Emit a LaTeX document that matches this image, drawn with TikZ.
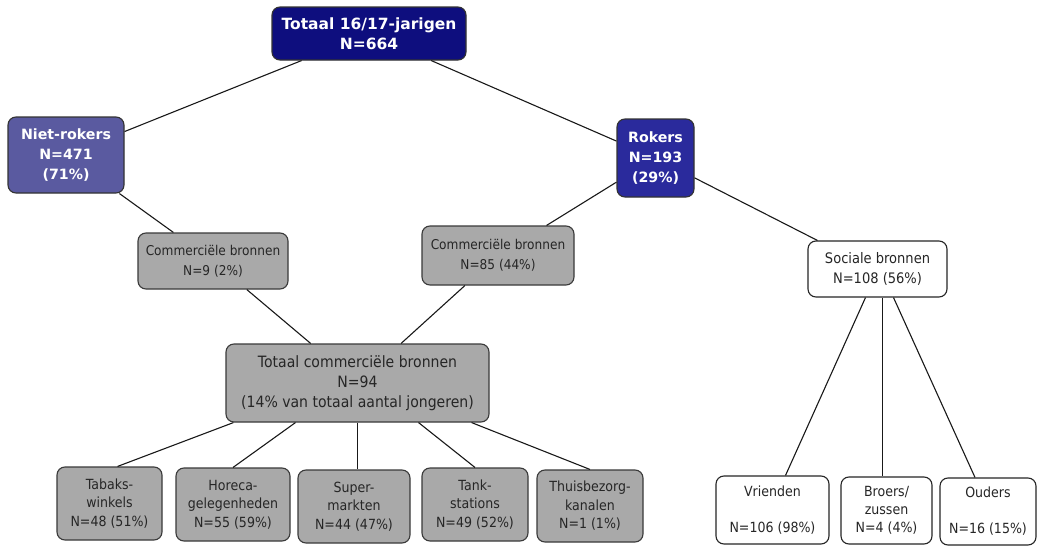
\documentclass[tikz,border=0pt]{standalone}
\usepackage{fontspec}
\setmainfont{DejaVu Sans}
\newfontfamily\regfont[FakeStretch=0.9]{DejaVu Sans}
\newfontfamily\boldfont{DejaVu Sans Bold}
\definecolor{navy}{HTML}{0E0E7E}
\definecolor{slateblue}{HTML}{5A5AA0}
\definecolor{royal}{HTML}{2A2A9C}
\definecolor{boxgray}{HTML}{A9A9A9}
\definecolor{edgegray}{HTML}{3A3A3A}
\tikzset{
  base/.style={rounded corners=8pt, align=center, inner sep=0pt, line width=1.1pt},
  topbox/.style={base, fill=navy, draw=black!80, text=white, font=\boldfont\fontsize{15.5}{20}\selectfont},
  nietbox/.style={base, fill=slateblue, draw=black!80, text=white, font=\boldfont\fontsize{14.2}{20}\selectfont},
  rokbox/.style={base, fill=royal, draw=black!80, text=white, font=\boldfont\fontsize{14.2}{20}\selectfont},
  graybox/.style={base, fill=boxgray, draw=edgegray, text=black!85, font=\regfont\fontsize{13.5}{20}\selectfont},
  smallgray/.style={base, fill=boxgray, draw=edgegray, text=black!85, font=\regfont\fontsize{14}{18.5}\selectfont},
  whitebox/.style={base, fill=white, draw=black!85, text=black!85, font=\regfont\fontsize{14.5}{20}\selectfont},
  smallwhite/.style={base, fill=white, draw=black!85, text=black!85, font=\regfont\fontsize{14}{18}\selectfont},
  conn/.style={line width=1.1pt, draw=black!90},
}
\begin{document}
\begin{tikzpicture}[x=1pt,y=-1pt]
\useasboundingbox (0,0) rectangle (1037,546);
\fill[white] (0,0) rectangle (1037,546);
% level 0
\node[topbox, minimum width=194pt, minimum height=53pt] (top) at (369,33.5) {Totaal 16/17-jarigen\\N=664};
% level 1
\node[nietbox, minimum width=116pt, minimum height=76pt] (niet) at (66,155) {Niet-rokers\\N=471\\(71\%)};
\node[rokbox, minimum width=77pt, minimum height=78pt] (rok) at (655.5,158) {Rokers\\N=193\\(29\%)};
% level 2
\node[graybox, minimum width=150pt, minimum height=56pt] (c9) at (213,261) {Commerciële bronnen\\N=9 (2\%)};
\node[graybox, minimum width=152pt, minimum height=59pt] (c85) at (498,255.5) {Commerciële bronnen\\N=85 (44\%)};
\node[whitebox, minimum width=139pt, minimum height=56pt] (soc) at (877.5,269) {Sociale bronnen\\N=108 (56\%)};
% level 3
\node[graybox, minimum width=263pt, minimum height=78pt, font=\regfont\fontsize{15.6}{20}\selectfont] (tot) at (357.5,383) {Totaal commerciële bronnen\\N=94\\(14\% van totaal aantal jongeren)};
% level 4
\node[smallgray, minimum width=105pt, minimum height=73pt] (tab) at (109.5,503.5) {Tabaks-\\winkels\\N=48 (51\%)};
\node[smallgray, minimum width=114pt, minimum height=73pt] (hor) at (233,504.5) {Horeca-\\gelegenheden\\N=55 (59\%)};
\node[smallgray, minimum width=112pt, minimum height=73pt] (sup) at (354,506.5) {Super-\\markten\\N=44 (47\%)};
\node[smallgray, minimum width=106pt, minimum height=73pt] (tank) at (475,504.5) {Tank-\\stations\\N=49 (52\%)};
\node[smallgray, minimum width=106pt, minimum height=72pt] (thuis) at (590,506) {Thuisbezorg-\\kanalen\\N=1 (1\%)};
\node[smallwhite, minimum width=113pt, minimum height=68pt] (vri) at (772.5,510) {Vrienden\\[18pt]N=106 (98\%)};
\node[smallwhite, minimum width=91pt, minimum height=67pt] (bro) at (886.5,510.5) {Broers/\\zussen\\N=4 (4\%)};
\node[smallwhite, minimum width=96pt, minimum height=67pt] (oud) at (988,511.5) {Ouders\\[18pt]N=16 (15\%)};
% connectors
\draw[conn] (top) -- (niet);
\draw[conn] (top) -- (rok);
\draw[conn] (niet) -- (c9);
\draw[conn] (rok) -- (c85);
\draw[conn] (rok) -- ([xshift=10pt]soc.north west);
\draw[conn] (c9) -- (tot);
\draw[conn] (c85) -- (tot);
\draw[conn] ([xshift=-124pt]tot.south) -- ([xshift=8pt]tab.north);
\draw[conn] ([xshift=-62pt]tot.south) -- (hor.north);
\draw[conn] (tot.south) -- ([xshift=3.5pt]sup.north);
\draw[conn] ([xshift=61pt]tot.south) -- (tank.north);
\draw[conn] ([xshift=114pt]tot.south) -- (thuis.north);
\draw[conn] ([xshift=-12pt]soc.south) -- ([xshift=13pt]vri.north);
\draw[conn] ([xshift=5pt]soc.south) -- ([xshift=-4pt]bro.north);
\draw[conn] ([xshift=16pt]soc.south) -- ([xshift=-13pt]oud.north);
\end{tikzpicture}
\end{document}
